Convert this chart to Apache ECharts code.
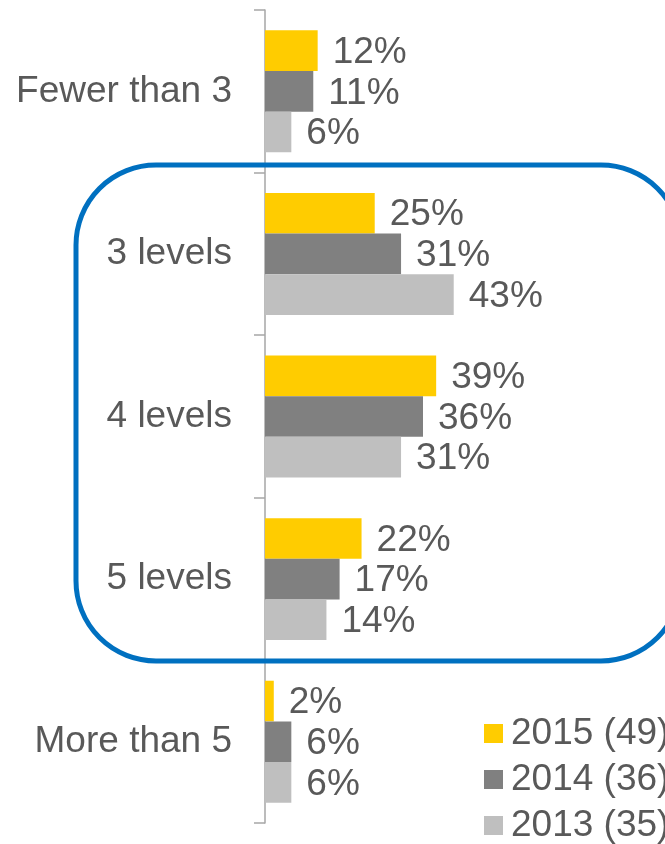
<!DOCTYPE html>
<html>
<head>
<meta charset="utf-8">
<script src="https://cdn.jsdelivr.net/npm/echarts@6/dist/echarts.min.js"></script>
<style>
html,body{margin:0;padding:0;background:#fff;}
#chart{width:665px;height:844px;}
</style>
</head>
<body>
<div id="chart"></div>
<script>
const categories = ['Fewer than 3', '3 levels', '4 levels', '5 levels', 'More than 5'];
const seriesNames = ['2015 (49)', '2014 (36)', '2013 (35)'];
const values2015 = [12, 25, 39, 22, 2];
const values2014 = [11, 31, 36, 17, 6];
const values2013 = [6, 43, 31, 14, 6];
const colors = ['#FFCC00', '#808080', '#BFBFBF'];

const chart = echarts.init(document.getElementById('chart'), null, {renderer: 'canvas'});
const font = 'Liberation Sans, Arial, sans-serif';
const textColor = '#595959';

function mkSeries(name, data, color) {
  return {
    name: name,
    type: 'bar',
    data: data,
    barGap: '0%',
    barCategoryGap: '25%',
    itemStyle: {color: color},
    label: {
      show: true,
      position: 'right',
      distance: 15,
      offset: [0, 2],
      formatter: '{c}%',
      fontFamily: font,
      fontSize: 37,
      color: textColor
    },
    silent: true,
    animation: false
  };
}

chart.setOption({
  animation: false,
  grid: {left: 265, right: 5, top: 10, bottom: 21, containLabel: false},
  xAxis: {
    type: 'value', min: 0, max: 90,
    show: false
  },
  yAxis: {
    type: 'category',
    data: categories,
    inverse: true,
    axisLine: {show: true, lineStyle: {color: '#A6A6A6', width: 1.5}},
    axisTick: {show: true, length: 11, lineStyle: {color: '#A6A6A6', width: 1.5}},
    axisLabel: {fontFamily: font, fontSize: 37, color: textColor, margin: 33},
    splitLine: {show: false}
  },
  legend: {
    orient: 'vertical',
    left: 484,
    top: 715,
    width: 300,
    height: 300,
    padding: 0,
    itemWidth: 19,
    itemHeight: 19,
    itemGap: 9,
    icon: 'rect',
    textStyle: {fontFamily: font, fontSize: 37, color: textColor, padding: [0, 0, 0, 3]},
    data: seriesNames
  },
  series: [
    mkSeries(seriesNames[0], values2015, colors[0]),
    mkSeries(seriesNames[1], values2014, colors[1]),
    mkSeries(seriesNames[2], values2013, colors[2])
  ],
  graphic: [{
    type: 'rect',
    z: 100,
    silent: true,
    shape: {x: 76, y: 165, width: 605, height: 496, r: 80},
    style: {fill: 'none', stroke: '#0070C0', lineWidth: 5}
  }]
});
</script>
</body>
</html>
